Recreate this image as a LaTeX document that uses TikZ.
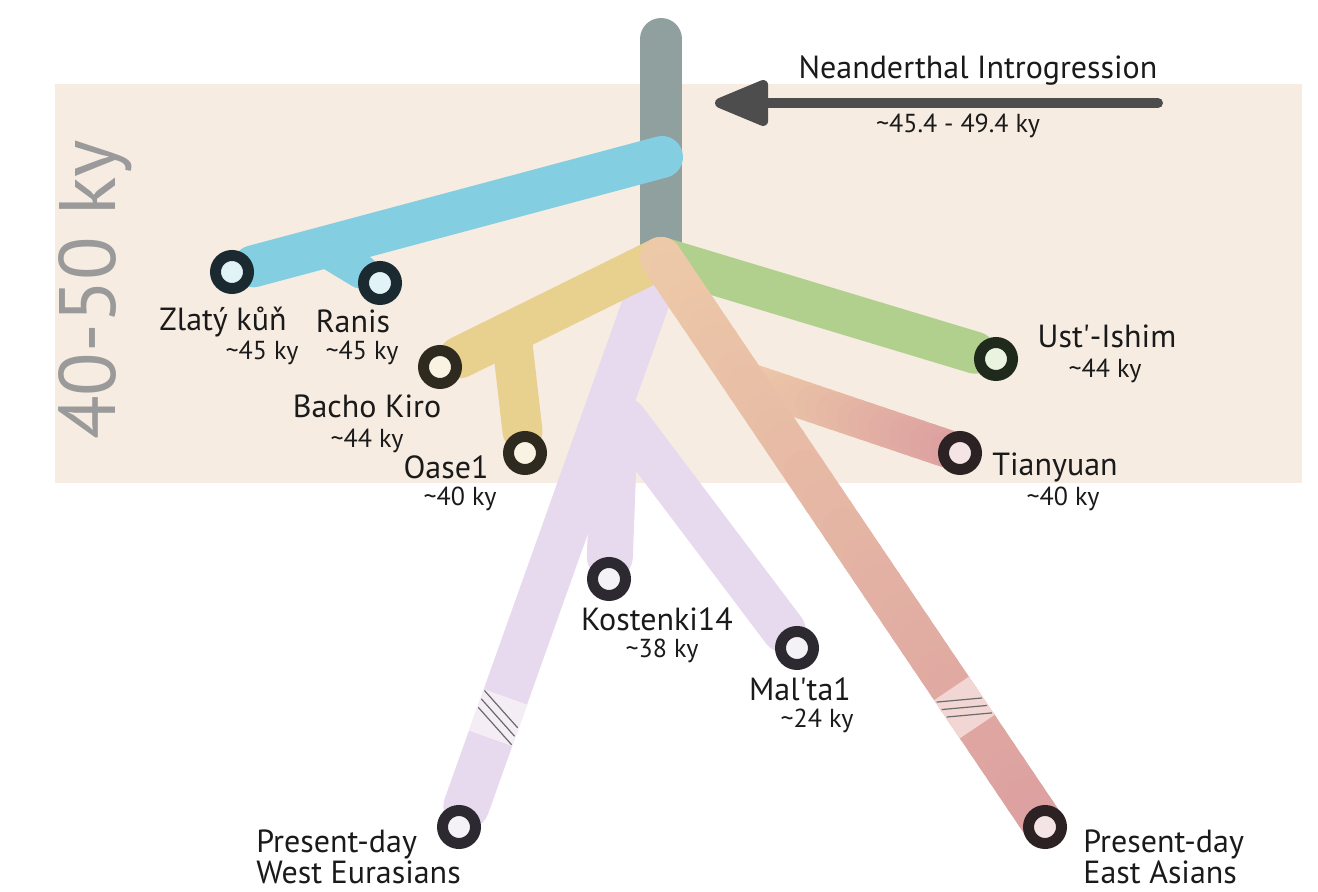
\documentclass[tikz,border=0pt]{standalone}
\usepackage{fontspec}
\setmainfont{PT Sans}
\usetikzlibrary{
  arrows.meta,
  backgrounds,
  calc
}
\definecolor{treeInk}{HTML}{1A1A1A}
\definecolor{bandSand}{HTML}{F7ECE2}
\definecolor{trunkGrey}{HTML}{8FA09F}
\definecolor{lineBlue}{HTML}{83CFE1}
\definecolor{ringBlue}{HTML}{1B2A30}
\definecolor{coreBlue}{HTML}{E2F3F8}
\definecolor{lineGold}{HTML}{E8D08E}
\definecolor{ringGold}{HTML}{2E2A20}
\definecolor{coreGold}{HTML}{F8F3E2}
\definecolor{lineGreen}{HTML}{B1D08E}
\definecolor{ringGreen}{HTML}{1F2A1C}
\definecolor{coreGreen}{HTML}{E9F3E0}
\definecolor{lineLilac}{HTML}{E8DAEE}
\definecolor{lightLilac}{HTML}{F4EDF6}
\definecolor{ringLilac}{HTML}{2C2A30}
\definecolor{coreLilac}{HTML}{F5F2F7}
\definecolor{linePeach}{HTML}{EDC9A8}
\definecolor{lineRose}{HTML}{DCA0A0}
\definecolor{lightRose}{HTML}{F2D6D4}
\definecolor{ringRose}{HTML}{2C2224}
\definecolor{coreRose}{HTML}{F5E4E5}
\definecolor{arrowGrey}{HTML}{4D4D4D}
\definecolor{epochGrey}{HTML}{9A9A9A}
\definecolor{breakInk}{HTML}{6A6A6A}
\tikzset{
  every node/.style={text=treeInk},
  sample/.style 2 args={
    circle,
    draw=#1,
    fill=#2,
    line width=5.5pt,
    minimum size=16.5pt,
    inner sep=0pt
  },
  lineage/.style={draw=#1, line width=21pt, line cap=round},
  samplename/.style={font=\fontsize{16}{14.5}\selectfont, inner sep=0pt},
  sampleage/.style={font=\fontsize{13}{13}\selectfont, inner sep=0pt},
  breakline/.style={draw=breakInk, line width=0.6pt},
  introarrow/.style={
    -{Triangle[length=31pt,width=24pt,round]},
    line width=5pt,
    line cap=round,
    draw=arrowGrey
  }
}

\begin{document}
\begin{tikzpicture}[x=0.5pt, y=-0.5pt]
  \useasboundingbox (0,0) rectangle (1318,892);

  % branch points
  \coordinate (trunktop) at (661,39);
  \coordinate (root) at (661,258);
  \coordinate (bluetop) at (662,157);
  \coordinate (ranisfork) at (332,254);
  \coordinate (oasefork) at (512,340);
  \coordinate (lilactop) at (654,280);
  \coordinate (maltafork) at (625,420);
  \coordinate (kostfork) at (615,420);
  \coordinate (tianfork) at (752,383);
  \coordinate (introfrom) at (1158,103);
  \coordinate (introto) at (715,103);

  % samples
  \node[sample={ringBlue}{coreBlue}] (zlaty) at (232,272) {};
  \node[sample={ringBlue}{coreBlue}] (ranis) at (380,283) {};
  \node[sample={ringGold}{coreGold}] (bacho) at (440,367) {};
  \node[sample={ringGold}{coreGold}] (oase) at (525,453) {};
  \node[sample={ringGreen}{coreGreen}] (ustishim) at (996,359) {};
  \node[sample={ringRose}{coreRose}] (tianyuan) at (960,453) {};
  \node[sample={ringLilac}{coreLilac}] (kostenki) at (609,579) {};
  \node[sample={ringLilac}{coreLilac}] (malta) at (797,648) {};
  \node[sample={ringLilac}{coreLilac}] (westeur) at (459,827) {};
  \node[sample={ringRose}{coreRose}] (eastasia) at (1045,827) {};

  % labels
  \node[samplename] (zlatyname) at (223,322) {Zlatý kůň};
  \node[sampleage] (zlatyage) at (262,353) {\textasciitilde45 ky};
  \node[samplename] (ranisname) at (353,321) {Ranis};
  \node[sampleage] (ranisage) at (362,353) {\textasciitilde45 ky};
  \node[samplename] (bachoname) at (367,406) {Bacho Kiro};
  \node[sampleage] (bachoage) at (367,441) {\textasciitilde44 ky};
  \node[samplename] (oasename) at (446,467) {Oase1};
  \node[sampleage] (oaseage) at (460,499) {\textasciitilde40 ky};
  \node[samplename] (ustname) at (1107,336) {Ust\textquotesingle-Ishim};
  \node[sampleage] (ustage) at (1105,371) {\textasciitilde44 ky};
  \node[samplename] (tianname) at (1055,467) {Tianyuan};
  \node[sampleage] (tianage) at (1063,499) {\textasciitilde40 ky};
  \node[samplename] (kostname) at (657,619) {Kostenki14};
  \node[sampleage] (kostage) at (662,651) {\textasciitilde38 ky};
  \node[samplename] (maltaname) at (800,689) {Mal\textquotesingle ta1};
  \node[sampleage] (maltaage) at (817,721) {\textasciitilde24 ky};
  \node[samplename, anchor=west, align=left] (westname) at (256,857) {Present-day\\West Eurasians};
  \node[samplename, anchor=west, align=left] (eastname) at (1083,857) {Present-day\\East Asians};

  \node[samplename] (introname) at (978,71) {Neanderthal Introgression};
  \node[sampleage] (introage) at (958,126) {\textasciitilde45.4 - 49.4 ky};
  \draw[introarrow] (introfrom) -- (introto);

  \node[font=\fontsize{40}{40}\selectfont, text=epochGrey, rotate=90] (epoch) at (95,290) {40-50 ky};

  \begin{scope}[on background layer]
    \fill[bandSand] (55,84) rectangle (1302,483);

    \draw[lineage=trunkGrey] (trunktop) -- (root);
    \draw[lineage=lineBlue] (bluetop) -- (zlaty);
    \draw[lineage=lineBlue, line width=17pt] (ranisfork) -- (ranis);

    \draw[lineage=lineLilac, line width=23pt] (lilactop) -- (westeur);
    \draw[lineage=lineLilac, line width=22pt] (maltafork) -- (malta);
    \draw[lineage=lineLilac, line width=23pt] (kostfork) -- (kostenki);
    % break on the west Eurasian line
    \begin{scope}[shift={($(lilactop)!0.8!(westeur)$)}, rotate=-109.7]
      \fill[lightLilac] (-22,-23) rectangle (22,23);
      \foreach \u in {-9,0,9}
        \draw[breakline] (\u-12,22) -- (\u+12,-22);
    \end{scope}

    \draw[lineage=lineGreen] (root) -- (ustishim);
    \draw[lineage=lineGold] (root) -- (bacho);
    \draw[lineage=lineGold, line width=20pt] (oasefork) -- (oase);

    \foreach \i in {0,...,19}{
      \pgfmathtruncatemacro\peachpct{100-5*\i}
      \pgfmathsetmacro\fromfrac{\i/20}
      \pgfmathsetmacro\tofrac{(\i+1)/20}
      \draw[lineage=linePeach!\peachpct!lineRose, line width=19pt]
        ($(tianfork)!\fromfrac!(tianyuan)$) -- ($(tianfork)!\tofrac!(tianyuan)$);
    }

    \foreach \i in {0,...,39}{
      \pgfmathtruncatemacro\peachpct{100-2.5*\i}
      \pgfmathsetmacro\fromfrac{\i/40}
      \pgfmathsetmacro\tofrac{(\i+1)/40}
      \draw[lineage=linePeach!\peachpct!lineRose]
        ($(root)!\fromfrac!(eastasia)$) -- ($(root)!\tofrac!(eastasia)$);
    }
    % break on the east Asian line
    \begin{scope}[shift={($(root)!0.79!(eastasia)$)}, rotate=-56]
      \fill[lightRose] (-23,-21) rectangle (23,21);
      \foreach \u in {-9,0,9}
        \draw[breakline] (\u-11,20) -- (\u+11,-20);
    \end{scope}
  \end{scope}
\end{tikzpicture}
\end{document}
